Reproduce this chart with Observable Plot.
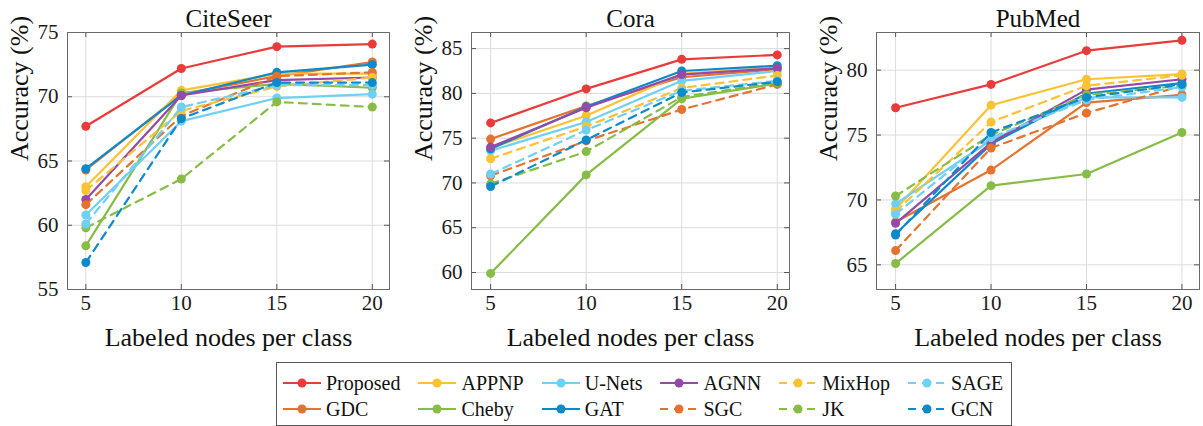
<!DOCTYPE html>
<html><head><meta charset="utf-8">
<script src="https://cdn.jsdelivr.net/npm/d3@7"></script>
<script src="https://cdn.jsdelivr.net/npm/@observablehq/plot@0.6"></script>
<style>
body{margin:0;background:#fff;font-family:"Liberation Serif",serif;}
#wrap{position:relative;width:1203px;height:426px;overflow:hidden;}
.panel{position:absolute;top:0;}
.panel svg, .panel svg text{font-family:"Liberation Serif",serif !important;}
#legend{position:absolute;left:276px;top:362px;border:1px solid #555;display:grid;grid-auto-flow:column;grid-template-rows:26px 26px;column-gap:17px;padding:7px 8px 3px 5px;background:#fff;font-size:20px;color:#111;}
.item{display:flex;align-items:center;white-space:nowrap;}
.item svg{margin-right:4px;}
</style></head><body><div id="wrap"></div>
<script>
// ---- data ----
const nodes = [5, 10, 15, 20];
const methods = ["Proposed","GDC","APPNP","Cheby","U-Nets","GAT","AGNN","SGC","MixHop","JK","SAGE","GCN"];
const colors  = ["#ea3b3b","#e5732f","#fbc234","#87bd47","#6fd0f5","#0d8ac9","#9549a8","#e5732f","#fbc234","#87bd47","#6fd0f5","#0d8ac9"];
const dashed  = [false,false,false,false,false,false,false,true,true,true,true,true];
const datasetNames = ["CiteSeer","Cora","PubMed"];
// accuracy per method (order of `methods`), at 5,10,15,20 labeled nodes
const citeseerAcc = [
  [67.7,72.2,73.9,74.1],[64.3,70.2,71.6,72.7],[63.0,70.5,71.8,71.8],[58.4,70.3,71.0,70.7],
  [60.8,68.1,69.9,70.2],[64.4,70.1,71.9,72.5],[62.0,70.1,71.3,71.5],[61.6,68.5,71.6,71.9],
  [62.7,68.9,70.8,71.5],[59.8,63.6,69.6,69.2],[60.1,69.2,70.9,70.9],[57.1,68.3,71.1,71.1]
];
const coraAcc = [
  [76.7,80.5,83.8,84.3],[74.9,78.6,81.8,82.7],[73.9,77.5,82.2,82.9],[59.9,70.9,79.4,81.1],
  [73.6,76.8,81.4,82.5],[73.8,78.5,82.5,83.1],[74.0,78.4,82.1,82.8],[70.8,74.7,78.2,81.0],
  [72.7,76.3,80.6,82.0],[69.9,73.5,79.6,81.2],[71.0,75.9,80.3,81.4],[69.6,74.8,80.1,81.3]
];
const pubmedAcc = [
  [77.1,78.9,81.5,82.3],[68.3,72.3,77.5,78.1],[69.3,77.3,79.3,79.7],[65.1,71.1,72.0,75.2],
  [69.7,74.6,77.9,77.9],[67.4,74.3,78.2,79.0],[68.2,74.4,78.5,79.3],[66.1,74.0,76.7,78.8],
  [69.1,76.0,78.8,79.6],[70.3,75.0,78.1,78.8],[68.9,74.8,77.7,78.7],[67.3,75.2,77.9,78.9]
];
const citeseerTicks = [55,60,65,70,75];
const coraTicks = [60,65,70,75,80,85];
const pubmedTicks = [65,70,75,80];
const citeseerDomain = [55,75];
const coraDomain = [58.1,86.8];
const pubmedDomain = [63.1,82.9];
const xLabel = "Labeled nodes per class";
const yLabel = "Accuracy (%)";

// ---- layout ----
const FONT = "Liberation Serif";
const H = 340, MT = 32, MB = 51, PW = 401;
const panels = [
  {acc: citeseerAcc, ticks: citeseerTicks, ydom: citeseerDomain, left: 0,   ml: 67, mr: 12, xdom: [4.04, 20.9]},
  {acc: coraAcc,     ticks: coraTicks,     ydom: coraDomain,     left: 401, ml: 70, mr: 13, xdom: [4.0, 20.64]},
  {acc: pubmedAcc,   ticks: pubmedTicks,   ydom: pubmedDomain,   left: 802, ml: 74, mr: 4,  xdom: [4.0, 20.92]}
];
const wrap = document.getElementById("wrap");
panels.forEach((p, i) => {
  const rows = [];
  methods.forEach((m, mi) => nodes.forEach((n, j) => rows.push({method: m, n, acc: p.acc[mi][j]})));
  const fw = PW - p.ml - p.mr, fh = H - MT - MB;
  const marks = [
    Plot.gridX(nodes, {stroke: "#dcdcdc", strokeOpacity: 1}),
    Plot.gridY(p.ticks, {stroke: "#dcdcdc", strokeOpacity: 1}),
    Plot.tickX(nodes, {x: d => d, stroke: "#555", insetTop: fh - 5}),
    Plot.tickX(nodes, {x: d => d, stroke: "#555", insetBottom: fh - 5}),
    Plot.tickY(p.ticks, {y: d => d, stroke: "#555", insetRight: fw - 5}),
    Plot.tickY(p.ticks, {y: d => d, stroke: "#555", insetLeft: fw - 5}),
    Plot.frame({stroke: "#6a6a6a", strokeWidth: 1}),
    Plot.axisX(nodes, {anchor: "bottom", tickSize: 0, tickPadding: 6, fontSize: 21, fontFamily: FONT, fontVariant: "normal", fill: "#1a1a1a", label: null}),
    Plot.axisY(p.ticks, {anchor: "left", tickSize: 0, tickPadding: 9, fontSize: 21, fontFamily: FONT, fontVariant: "normal", fill: "#1a1a1a", label: null})
  ];
  methods.forEach((m, mi) => {
    const r = rows.filter(d => d.method === m);
    marks.push(Plot.line(r, {x: "n", y: "acc", stroke: "method", strokeWidth: 2.2,
      strokeDasharray: dashed[mi] ? "8,6" : null}));
    marks.push(Plot.dot(r, {x: "n", y: "acc", fill: "method", r: 4.5}));
  });
  marks.push(Plot.text([datasetNames[i]], {text: d => d, frameAnchor: "top", dy: -23, fontSize: 25, fontFamily: FONT, fill: "#111"}));
  marks.push(Plot.text([xLabel], {text: d => d, frameAnchor: "bottom", dy: 56, fontSize: 26, fontFamily: FONT, fill: "#111"}));
  marks.push(Plot.text([yLabel], {text: d => d, frameAnchor: "left", dx: -48, rotate: -90, fontSize: 26, fontFamily: FONT, fill: "#111"}));
  const chart = Plot.plot({
    width: PW, height: H,
    marginLeft: p.ml, marginRight: p.mr, marginTop: MT, marginBottom: MB,
    style: {fontFamily: FONT, fontSize: "21px", background: "transparent", overflow: "visible"},
    x: {domain: p.xdom, axis: null},
    y: {domain: p.ydom, axis: null},
    color: {domain: methods, range: colors},
    marks
  });
  const div = document.createElement("div");
  div.className = "panel";
  div.style.left = p.left + "px";
  div.appendChild(chart);
  wrap.appendChild(div);
});

// ---- legend ----
const legend = document.createElement("div");
legend.id = "legend";
methods.forEach((m, mi) => {
  const item = document.createElement("div");
  item.className = "item";
  const svg = d3.create("svg").attr("width", 40).attr("height", 14);
  svg.append("line").attr("x1", 1).attr("x2", 39).attr("y1", 7).attr("y2", 7)
    .attr("stroke", colors[mi]).attr("stroke-width", 2.2)
    .attr("stroke-dasharray", dashed[mi] ? "8,6" : null);
  svg.append("circle").attr("cx", 20).attr("cy", 7).attr("r", 4.5).attr("fill", colors[mi]);
  item.appendChild(svg.node());
  const t = document.createElement("span");
  t.textContent = m;
  item.appendChild(t);
  legend.appendChild(item);
});
wrap.appendChild(legend);
</script></body></html>
